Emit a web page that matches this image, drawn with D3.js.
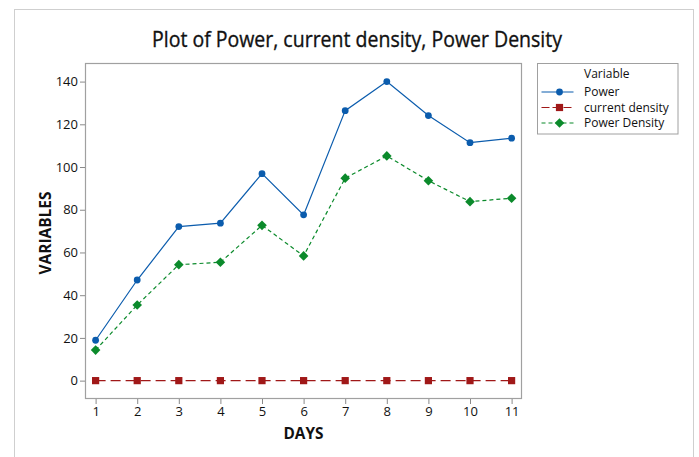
<!DOCTYPE html>
<html><head><meta charset="utf-8">
<script src="https://cdn.jsdelivr.net/npm/d3@7"></script>
<style>
html,body{margin:0;padding:0;background:#fff;}
svg{display:block;}
text{font-family:"Open Sans","Noto Sans",sans-serif;fill:#111;}
</style></head>
<body>
<script>
const days = [1,2,3,4,5,6,7,8,9,10,11];
const power = [18.9,47.1,72.1,73.7,96.9,77.6,126.4,140,124.1,111.4,113.5];
const currentDensity = [0,0,0,0,0,0,0,0,0,0,0];
const powerDensity = [14.3,35.4,54.3,55.4,72.7,58.4,94.8,105.2,93.6,83.8,85.4];
const yTicks = [0,20,40,60,80,100,120,140];
const seriesNames = ["Power","current density","Power Density"];
const colors = ["#0B5CAD","#A01818","#0B8A2B"];

const W=699,H=457;
const svg=d3.select("body").append("svg").attr("width",W).attr("height",H);
// outer border
svg.append("rect").attr("x",14.5).attr("y",9.5).attr("width",679).attr("height",460)
  .attr("fill","none").attr("stroke","#cfcfcf").attr("stroke-width",1);

const L=85,R=522,T=63,B=399;
const x=d3.scaleLinear().domain([0.745,11.25]).range([L,R]);
const y=d3.scaleLinear().domain([-8.6,148.7]).range([B,T]);

// frame
svg.append("rect").attr("x",L+0.5).attr("y",T+0.5).attr("width",R-L-1).attr("height",B-T-1)
  .attr("fill","none").attr("stroke","#a0a0a0").attr("stroke-width",1.2);

// axes
const yAxis=svg.append("g").attr("transform",`translate(${L},0)`)
  .call(d3.axisLeft(y).tickValues(yTicks).tickSize(5).tickPadding(2));
const xAxis=svg.append("g").attr("transform",`translate(0,${B})`)
  .call(d3.axisBottom(x).tickValues(days).tickSize(5).tickPadding(3).tickFormat(d3.format("d")));
[yAxis,xAxis].forEach(g=>{
  g.select(".domain").remove();
  g.selectAll(".tick line").attr("stroke","#8a8a8a");
  g.selectAll(".tick text").attr("font-size",13).attr("font-family","'Open Sans','Noto Sans',sans-serif").attr("fill","#111");
});

// title
svg.append("text").attr("x",357).attr("y",47).attr("text-anchor","middle")
  .attr("font-size",22).attr("stroke","#111").attr("stroke-width",0.35)
  .attr("textLength",410).attr("lengthAdjust","spacingAndGlyphs")
  .text("Plot of Power, current density, Power Density");
// axis labels
svg.append("text").attr("x",303.5).attr("y",439).attr("text-anchor","middle")
  .attr("font-size",16.5).attr("font-weight","bold").attr("textLength",40).attr("lengthAdjust","spacingAndGlyphs").text("DAYS");
svg.append("text").attr("transform","translate(51,233) rotate(-90)").attr("text-anchor","middle")
  .attr("font-size",16).attr("font-weight","bold").attr("textLength",83).attr("lengthAdjust","spacingAndGlyphs").text("VARIABLES");

const data=[power,currentDensity,powerDensity];
const dashes=[null,"10,5","4,3"];
const line=d3.line().x((d,i)=>x(days[i])).y(d=>y(d));
data.forEach((vals,k)=>{
  svg.append("path").datum(vals).attr("d",line).attr("fill","none")
    .attr("stroke",colors[k]).attr("stroke-width",1.2).attr("stroke-dasharray",dashes[k]);
});
function marker(g,k,cx,cy){
  if(k===0) g.append("circle").attr("cx",cx).attr("cy",cy).attr("r",3.4).attr("fill",colors[0]);
  else if(k===1) g.append("rect").attr("x",cx-3.6).attr("y",cy-3.6).attr("width",7.2).attr("height",7.2).attr("fill",colors[1]);
  else g.append("path").attr("d",`M${cx},${cy-4.8}L${cx+4.8},${cy}L${cx},${cy+4.8}L${cx-4.8},${cy}Z`).attr("fill",colors[2]);
}
const mg=svg.append("g");
data.forEach((vals,k)=>{
  vals.forEach((v,i)=>marker(mg,k,x(days[i]),y(v)));
});

// legend
const lg=svg.append("g");
lg.append("rect").attr("x",537.5).attr("y",63.5).attr("width",140.5).attr("height",70.5)
  .attr("fill","#fff").attr("stroke","#a0a0a0").attr("stroke-width",1);
lg.append("text").attr("x",584).attr("y",78).attr("font-size",12).text("Variable");
seriesNames.forEach((n,k)=>{
  const cy=92+k*15.5;
  lg.append("line").attr("x1",541.5).attr("x2",573.5).attr("y1",cy).attr("y2",cy)
    .attr("stroke",colors[k]).attr("stroke-width",1.2).attr("stroke-dasharray",k===1?"8,3":(k===2?"4,3":null));
  marker(lg,k,559.5,cy);
  lg.append("text").attr("x",584).attr("y",cy+4).attr("font-size",12).text(n);
});
</script>
</body></html>
